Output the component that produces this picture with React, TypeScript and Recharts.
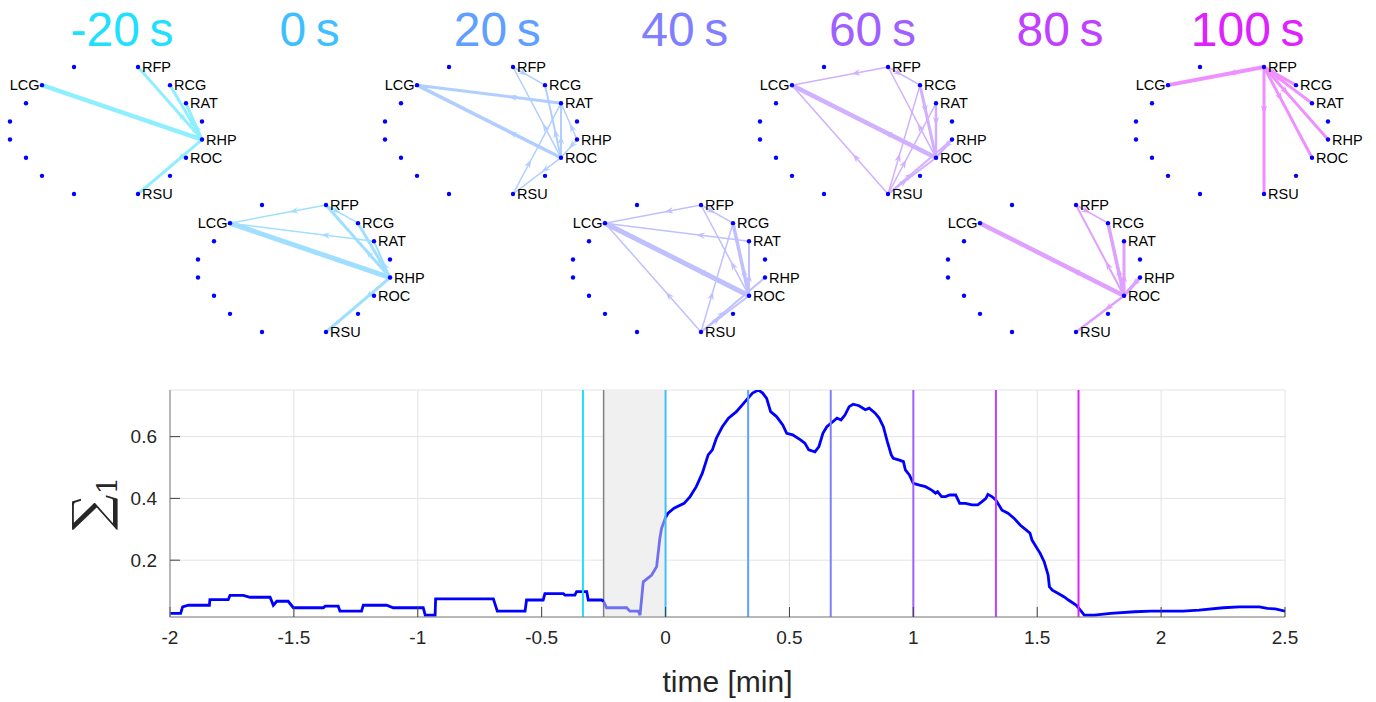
import React from "react";
import {
  LineChart,
  Line,
  XAxis,
  YAxis,
  CartesianGrid,
  ReferenceLine,
  ReferenceArea,
  ScatterChart,
  Scatter,
} from "recharts";

const FONT = "'Liberation Sans', Arial, Helvetica, sans-serif";
const TEXT = "#262626";

// snapshot times (seconds) and their colours (cool colormap)
const snapshotSeconds = [-20, 0, 20, 40, 60, 80, 100];
const snapshotColors = ["#20dfff", "#40bfff", "#609fff", "#8080ff", "#a060ff", "#bf40ff", "#df20ff"];

// channels on the ring (16 contacts, only some are named)
const nodeNames = ["RFP", "RCG", "RAT", "", "RHP", "ROC", "", "RSU", "", "", "", "", "", "", "LCG", ""];
const nodeX = [2, 4, 5, 6, 6, 5, 4, 2, -2, -4, -5, -6, -6, -5, -4, -2];
const nodeY = [3.5, 2.5, 1.5, 0.5, -0.5, -1.5, -2.5, -3.5, -3.5, -2.5, -1.5, -0.5, 0.5, 1.5, 2.5, 3.5];

type Edge = [string, string, number];

// directed edges [from, to, weight] for each snapshot
const edgesM20: Edge[] = [
  ["RHP", "LCG", 4.5], ["RHP", "RFP", 3], ["RHP", "RCG", 3], ["RHP", "RAT", 3], ["RHP", "RSU", 3],
];
const edges0: Edge[] = [
  ["RFP", "LCG", 1.5], ["RAT", "LCG", 1.5], ["RHP", "LCG", 5], ["RHP", "RFP", 3], ["RHP", "RCG", 3],
  ["RHP", "RAT", 2], ["RFP", "RCG", 1.5], ["RHP", "RSU", 3],
];
const edges20: Edge[] = [
  ["RAT", "LCG", 3], ["ROC", "LCG", 3.5], ["ROC", "RFP", 1.5], ["ROC", "RCG", 2], ["ROC", "RAT", 2],
  ["RSU", "RAT", 1.5], ["RHP", "RAT", 1.5], ["RHP", "ROC", 1.5], ["ROC", "RSU", 1.5], ["RFP", "RCG", 1.5],
];
const edges40: Edge[] = [
  ["RFP", "LCG", 1.5], ["RAT", "LCG", 1.5], ["ROC", "LCG", 5], ["RSU", "LCG", 1.5], ["RFP", "RCG", 1.5],
  ["ROC", "RFP", 1.5], ["ROC", "RCG", 3.5], ["ROC", "RAT", 2], ["RSU", "RCG", 1.5], ["RSU", "RHP", 2],
  ["RSU", "ROC", 2],
];
const edges60: Edge[] = [
  ["RFP", "LCG", 1.5], ["ROC", "LCG", 4.5], ["RSU", "LCG", 1.5], ["RFP", "RCG", 1.5], ["ROC", "RFP", 1.5],
  ["RCG", "ROC", 3], ["RAT", "ROC", 2.5], ["RSU", "RCG", 1.5], ["RSU", "RAT", 1.5], ["RSU", "RHP", 2],
  ["RSU", "ROC", 2], ["RHP", "ROC", 2.5],
];
const edges80: Edge[] = [
  ["ROC", "LCG", 4.5], ["RFP", "RCG", 1.5], ["ROC", "RFP", 2], ["ROC", "RCG", 3.5], ["ROC", "RAT", 3],
  ["RHP", "ROC", 3.5], ["ROC", "RSU", 2.5],
];
const edges100: Edge[] = [
  ["RFP", "LCG", 4], ["RFP", "RCG", 3], ["RFP", "RAT", 3], ["RFP", "RHP", 3], ["RFP", "ROC", 3], ["RFP", "RSU", 3],
];
const snapshotEdges = [edgesM20, edges0, edges20, edges40, edges60, edges80, edges100];

// Sigma_1 over time
const timeMin = [
  -2.0, -1.957, -1.949, -1.926, -1.841, -1.839, -1.765, -1.758, -1.704, -1.677, -1.596, -1.583, -1.569, -1.523,
  -1.502, -1.381, -1.374, -1.321, -1.314, -1.227, -1.22, -1.126, -1.099, -0.978, -0.97, -0.93, -0.928, -0.695,
  -0.679, -0.567, -0.561, -0.494, -0.487, -0.413, -0.406, -0.366, -0.359, -0.318, -0.312, -0.258, -0.25, -0.238,
  -0.157, -0.144, -0.11, -0.103, -0.09, -0.056, -0.036, -0.023, -0.016, 0.0, 0.01, 0.034, 0.075, 0.099, 0.124,
  0.148, 0.172, 0.189, 0.205, 0.229, 0.254, 0.286, 0.327, 0.351, 0.375, 0.392, 0.408, 0.424, 0.448, 0.473, 0.489,
  0.513, 0.546, 0.562, 0.578, 0.603, 0.619, 0.635, 0.651, 0.676, 0.692, 0.708, 0.724, 0.741, 0.757, 0.781, 0.806,
  0.822, 0.846, 0.862, 0.879, 0.895, 0.911, 0.919, 0.944, 0.96, 0.968, 0.984, 1.0, 1.025, 1.049, 1.074, 1.09,
  1.098, 1.114, 1.13, 1.147, 1.171, 1.187, 1.211, 1.236, 1.26, 1.276, 1.293, 1.301, 1.317, 1.333, 1.341, 1.358,
  1.382, 1.406, 1.431, 1.455, 1.471, 1.479, 1.496, 1.512, 1.528, 1.544, 1.549, 1.561, 1.585, 1.609, 1.626, 1.658,
  1.674, 1.69, 1.731, 1.796, 1.893, 1.958, 2.088, 2.153, 2.251, 2.316, 2.396, 2.429, 2.461, 2.5,
];
const sigma1 = [
  0.028, 0.028, 0.049, 0.054, 0.054, 0.072, 0.072, 0.086, 0.086, 0.08, 0.08, 0.054, 0.067, 0.067,
  0.046, 0.046, 0.051, 0.051, 0.035, 0.035, 0.054, 0.054, 0.046, 0.046, 0.022, 0.022, 0.075, 0.075,
  0.035, 0.035, 0.071, 0.071, 0.092, 0.092, 0.087, 0.087, 0.098, 0.098, 0.071, 0.071, 0.067, 0.046,
  0.046, 0.035, 0.035, 0.022, 0.13, 0.152, 0.179, 0.271, 0.303, 0.338, 0.352, 0.368, 0.384, 0.406, 0.438,
  0.481, 0.541, 0.557, 0.595, 0.632, 0.66, 0.681, 0.719, 0.741, 0.751, 0.741, 0.724, 0.681, 0.665, 0.638, 0.611,
  0.606, 0.589, 0.579, 0.557, 0.551, 0.568, 0.611, 0.632, 0.649, 0.66, 0.654, 0.67, 0.697, 0.705, 0.7, 0.687,
  0.692, 0.676, 0.66, 0.632, 0.584, 0.541, 0.53, 0.524, 0.519, 0.492, 0.476, 0.449, 0.443, 0.438, 0.427, 0.417,
  0.422, 0.406, 0.406, 0.411, 0.411, 0.384, 0.384, 0.379, 0.379, 0.389, 0.4, 0.413, 0.406, 0.395, 0.384, 0.362,
  0.352, 0.336, 0.314, 0.298, 0.287, 0.265, 0.243, 0.222, 0.195, 0.152, 0.114, 0.103, 0.092, 0.081, 0.071, 0.054,
  0.038, 0.022, 0.022, 0.028, 0.033, 0.035, 0.035, 0.038, 0.046, 0.049, 0.049, 0.044, 0.042, 0.035,
];

const shadeStart = -0.25;
const shadeEnd = 0;
const xTicks = [-2, -1.5, -1, -0.5, 0, 0.5, 1, 1.5, 2, 2.5];
const yTicks = [0.2, 0.4, 0.6];

const rows = timeMin.map((t, i) => ({
  t,
  main: t <= shadeStart || t >= shadeEnd ? sigma1[i] : null,
  faded: t >= shadeStart && t <= shadeEnd ? sigma1[i] : null,
}));

const nodes = nodeNames.map((label, i) => ({ label, x: nodeX[i], y: nodeY[i] }));
const nodeAt = (name: string) => nodes.find((n) => n.label === name)!;

function lighten(hex: string, amt: number) {
  const n = parseInt(hex.slice(1), 16);
  const mix = (c: number) => Math.round(c + (255 - c) * amt);
  return `rgb(${mix((n >> 16) & 255)},${mix((n >> 8) & 255)},${mix(n & 255)})`;
}

const ARROW_AT = 0.34;

function makeEdge(color: string, width: number) {
  return (props: any) => {
    const pts = props.points ?? [];
    if (pts.length < 2) return <g />;
    const x1 = pts[0].x ?? pts[0].cx;
    const y1 = pts[0].y ?? pts[0].cy;
    const x2 = pts[1].x ?? pts[1].cx;
    const y2 = pts[1].y ?? pts[1].cy;
    const dx = x2 - x1;
    const dy = y2 - y1;
    const len = Math.hypot(dx, dy) || 1;
    const ux = dx / len;
    const uy = dy / len;
    const nx = -uy;
    const ny = ux;
    const px = x1 + dx * ARROW_AT;
    const py = y1 + dy * ARROW_AT;
    const arrow = [
      [px + ux * 4, py + uy * 4],
      [px - ux * 5 + nx * 3.2, py - uy * 5 + ny * 3.2],
      [px - ux * 2, py - uy * 2],
      [px - ux * 5 - nx * 3.2, py - uy * 5 - ny * 3.2],
    ]
      .map((p) => p.join(","))
      .join(" ");
    return (
      <g>
        <line x1={x1} y1={y1} x2={x2} y2={y2} stroke={color} strokeWidth={width} strokeLinecap="round" />
        <polygon points={arrow} fill={color} />
      </g>
    );
  };
}

const emptyShape = () => <g />;

const nodeShape = (p: any) => {
  const { cx, cy, payload } = p;
  const left = payload.x < 0;
  return (
    <g>
      <circle cx={cx} cy={cy} r={2.2} fill="#0000ff" />
      {payload.label ? (
        <text
          x={left ? cx - 2.5 : cx + 4}
          y={cy + 5}
          textAnchor={left ? "end" : "start"}
          fontSize={14.5}
          fontFamily={FONT}
          fill="#000"
        >
          {payload.label}
        </text>
      ) : null}
    </g>
  );
};

function panelCenter(idx: number) {
  return { cx: 106 + 187.6 * idx, cy: idx % 2 === 0 ? 130.5 : 268 };
}

function NetworkPanel({ idx }: { idx: number }) {
  const { cx, cy } = panelCenter(idx);
  const edgeColor = lighten(snapshotColors[idx], 0.5);
  return (
    <div style={{ position: "absolute", left: cx - 106, top: cy - 73.5 }}>
      <ScatterChart width={260} height={147} margin={{ top: 10, right: 58, bottom: 10, left: 10 }}>
        <XAxis type="number" dataKey="x" domain={[-6, 6]} hide />
        <YAxis type="number" dataKey="y" domain={[-3.5, 3.5]} hide />
        {snapshotEdges[idx].map(([s, t, w], i) => (
          <Scatter
            key={i}
            data={[nodeAt(s), nodeAt(t)]}
            line={makeEdge(edgeColor, w)}
            shape={emptyShape}
            isAnimationActive={false}
          />
        ))}
        <Scatter data={nodes} shape={nodeShape} isAnimationActive={false} />
      </ScatterChart>
    </div>
  );
}

const SigmaLabel = (props: any) => {
  const vb = props.viewBox ?? { x: 110, y: 390, width: 60, height: 227 };
  const x = vb.x - 2;
  const y = vb.y + vb.height / 2;
  return (
    <text
      x={x}
      y={y}
      transform={`rotate(-90 ${x} ${y})`}
      textAnchor="middle"
      fontFamily="'DejaVu Serif', serif"
      fontSize={50}
      fill={TEXT}
    >
      ∑
      <tspan fontSize={28} dy={9}>
        1
      </tspan>
    </text>
  );
};

export default function App() {
  return (
    <div style={{ position: "absolute", left: 0, top: 0, width: 1376, height: 702, background: "#fff" }}>
      <div style={{ position: "absolute", left: 0, top: 0 }}>
        <LineChart width={1376} height={702} data={rows} margin={{ top: 390, right: 91, bottom: 0, left: 110 }}>
          <CartesianGrid stroke="#e3e3e3" />
          <ReferenceArea x1={shadeStart} x2={shadeEnd} fill="#f0f0f0" fillOpacity={1} stroke="none" />
          <ReferenceLine x={shadeStart} stroke="#808080" strokeWidth={1.5} />
          <XAxis
            type="number"
            dataKey="t"
            domain={[-2, 2.5]}
            ticks={xTicks}
            allowDataOverflow
            height={85}
            tickSize={-10}
            tickMargin={24}
            axisLine={{ stroke: "#7f7f7f" }}
            tickLine={{ stroke: "#404040" }}
            tick={{ fill: TEXT, fontSize: 19, fontFamily: FONT }}
            label={{ value: "time [min]", position: "insideBottom", offset: 10, fill: TEXT, fontSize: 30, fontFamily: FONT }}
          />
          <XAxis
            xAxisId="top"
            orientation="top"
            type="number"
            dataKey="t"
            domain={[-2, 2.5]}
            ticks={xTicks}
            height={0}
            tick={false}
            tickSize={-10}
            axisLine={{ stroke: "#7f7f7f" }}
            tickLine={{ stroke: "#404040" }}
          />
          <YAxis
            type="number"
            domain={[0.016, 0.751]}
            ticks={yTicks}
            allowDataOverflow
            width={60}
            tickSize={-10}
            tickMargin={23}
            axisLine={{ stroke: "#7f7f7f" }}
            tickLine={{ stroke: "#404040" }}
            tick={{ fill: TEXT, fontSize: 19, fontFamily: FONT }}
            label={{ content: SigmaLabel }}
          />
          <YAxis
            yAxisId="right"
            orientation="right"
            type="number"
            domain={[0.016, 0.751]}
            ticks={yTicks}
            width={0}
            tick={false}
            tickSize={-10}
            axisLine={{ stroke: "#7f7f7f" }}
            tickLine={{ stroke: "#404040" }}
          />
          <Line
            dataKey="faded"
            stroke="#7070f2"
            strokeWidth={2.8}
            dot={false}
            isAnimationActive={false}
          />
          <Line
            dataKey="main"
            stroke="#0000ff"
            strokeWidth={2.8}
            dot={false}
            isAnimationActive={false}
          />
          {snapshotSeconds.map((s, i) => (
            <ReferenceLine key={s} x={s / 60} stroke={snapshotColors[i]} strokeWidth={2} />
          ))}
        </LineChart>
      </div>
      {snapshotSeconds.map((s, i) => (
        <NetworkPanel key={s} idx={i} />
      ))}
      {snapshotSeconds.map((s, i) => {
        const { cx } = panelCenter(i);
        return (
          <div
            key={`title-${s}`}
            style={{
              position: "absolute",
              left: cx + 16 - 100,
              top: 6,
              width: 200,
              textAlign: "center",
              fontFamily: FONT,
              fontSize: 48,
              lineHeight: "48px",
              color: snapshotColors[i],
              whiteSpace: "nowrap",
            }}
          >
            {`${s}\u2009s`}
          </div>
        );
      })}
    </div>
  );
}
